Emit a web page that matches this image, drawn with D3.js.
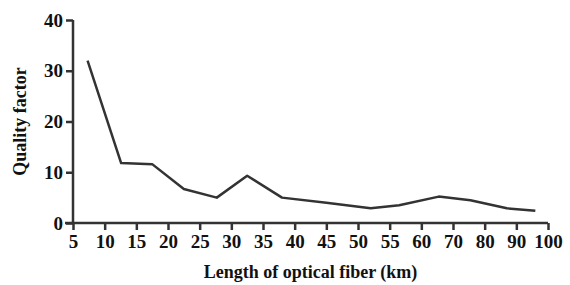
<!DOCTYPE html>
<html>
<head>
<meta charset="utf-8">
<script src="https://cdn.jsdelivr.net/npm/d3@7"></script>
<style>
body{margin:0;background:#fff}
svg text{font-family:"Liberation Serif","DejaVu Serif",serif !important;font-weight:bold}
</style>
</head>
<body>
<svg></svg>
<script>
var screen = {width:570,height:285}
var margins = {top:20,right:22,bottom:62,left:73}

// tick labels on the x axis (not evenly spaced in value)
var xTicks = [5,10,15,20,25,30,35,40,45,50,55,60,70,80,90,100]
var yTicks = [0,10,20,30,40]

// quality factor vs fiber length
var lengths = [7.3,12.6,17.5,22.5,27.7,32.5,38,45,52,56.5,65.5,75.5,87,96]
var quality = [32,11.8,11.6,6.7,5.0,9.3,5.0,4.0,2.9,3.5,5.2,4.5,2.9,2.4]

var width = screen.width - margins.left - margins.right
var height = screen.height - margins.top - margins.bottom

var svg = d3.select("svg")
    .attr("width",screen.width)
    .attr("height",screen.height)

var g = svg.append("g")
    .attr("transform","translate("+margins.left+","+margins.top+")")

//piecewise scale so each tick gets the same space
var xScale = d3.scaleLinear()
    .domain(xTicks)
    .range(xTicks.map(function(d,i){return i*width/(xTicks.length-1)}))

var yScale = d3.scaleLinear()
    .domain([0,40])
    .range([height,0])

var xAxis = d3.axisBottom(xScale).tickValues(xTicks).tickSize(7).tickPadding(4).tickFormat(d3.format("d"))
var yAxis = d3.axisLeft(yScale).tickValues(yTicks).tickSize(7).tickPadding(3)

var gx = g.append("g")
    .attr("transform","translate(0,"+height+")")
    .call(xAxis)
var gy = g.append("g")
    .call(yAxis)

g.selectAll(".domain").remove()
g.selectAll("g").attr("font-family",null)
gx.append("line").attr("x1",-8).attr("x2",width).attr("stroke","#333").attr("stroke-width",2.5)
gy.append("line").attr("y1",0).attr("y2",height).attr("stroke","#333").attr("stroke-width",2.5)

g.selectAll(".tick line").attr("stroke","#333").attr("stroke-width",2.5)
g.selectAll(".tick text")
    .style("font-size","19px")
    .attr("fill","#111")
gx.selectAll(".tick text").attr("dy","0.75em")

var data = lengths.map(function(d,i){return {x:d,y:quality[i]}})

var line = d3.line()
    .x(function(d){return xScale(d.x)})
    .y(function(d){return yScale(d.y)})

g.append("path")
    .datum(data)
    .attr("d",line)
    .attr("fill","none")
    .attr("stroke","#333")
    .attr("stroke-width",2.5)
    .attr("stroke-linejoin","round")

svg.append("text")
    .attr("x",margins.left+width/2)
    .attr("y",278)
    .attr("text-anchor","middle")
    .style("font-size","18px")
    .attr("fill","#111")
    .text("Length of optical fiber (km)")

svg.append("text")
    .attr("transform","translate(26,"+(margins.top+height/2)+") rotate(-90)")
    .attr("text-anchor","middle")
    .style("font-size","18px")
    .attr("fill","#111")
    .text("Quality factor")
</script>
</body>
</html>
